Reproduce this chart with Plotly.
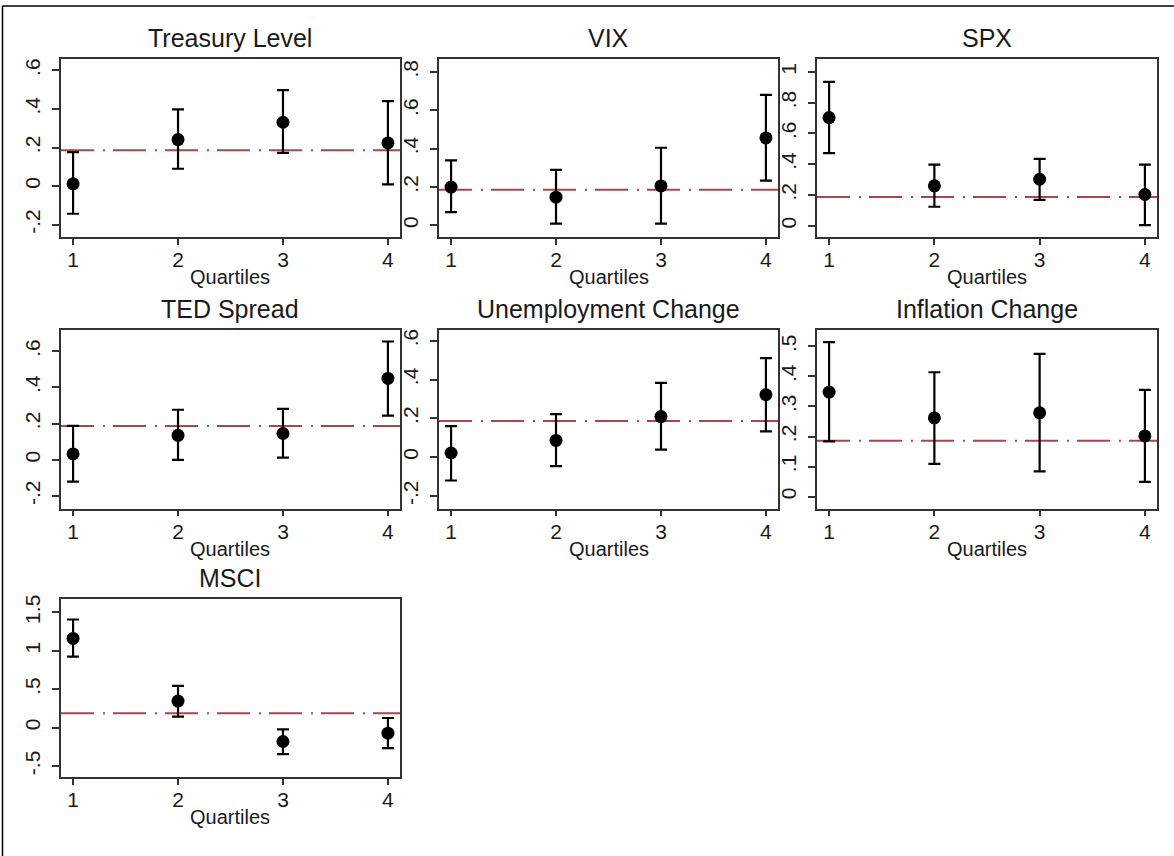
import plotly.graph_objects as go

# ---------------- data ----------------
quartiles = [1, 2, 3, 4]
panel_titles = ["Treasury Level", "VIX", "SPX", "TED Spread",
                "Unemployment Change", "Inflation Change", "MSCI"]

treasury_coef = [0.012, 0.241, 0.331, 0.224]
treasury_lo = [-0.143, 0.090, 0.172, 0.009]
treasury_hi = [0.176, 0.398, 0.497, 0.440]

vix_coef = [0.200, 0.147, 0.206, 0.456]
vix_lo = [0.069, 0.009, 0.009, 0.233]
vix_hi = [0.339, 0.290, 0.405, 0.681]

spx_coef = [0.703, 0.259, 0.302, 0.203]
spx_lo = [0.472, 0.123, 0.168, 0.004]
spx_hi = [0.935, 0.397, 0.435, 0.397]

ted_coef = [0.032, 0.135, 0.145, 0.449]
ted_lo = [-0.121, -0.001, 0.012, 0.244]
ted_hi = [0.187, 0.276, 0.281, 0.653]

unemp_coef = [0.021, 0.086, 0.209, 0.322]
unemp_lo = [-0.121, -0.047, 0.038, 0.133]
unemp_hi = [0.160, 0.221, 0.383, 0.510]

infl_coef = [0.348, 0.262, 0.279, 0.202]
infl_lo = [0.184, 0.109, 0.084, 0.049]
infl_hi = [0.514, 0.414, 0.475, 0.355]

msci_coef = [1.162, 0.346, -0.181, -0.073]
msci_lo = [0.924, 0.143, -0.346, -0.268]
msci_hi = [1.408, 0.544, -0.022, 0.125]

reference_value = 0.186

ytick_vals = [
    [-0.2, 0, 0.2, 0.4, 0.6],
    [0, 0.2, 0.4, 0.6, 0.8],
    [0, 0.2, 0.4, 0.6, 0.8, 1],
    [-0.2, 0, 0.2, 0.4, 0.6],
    [-0.2, 0, 0.2, 0.4, 0.6],
    [0, 0.1, 0.2, 0.3, 0.4, 0.5],
    [-0.5, 0, 0.5, 1, 1.5],
]
ytick_text = [
    ["-.2", "0", ".2", ".4", ".6"],
    ["0", ".2", ".4", ".6", ".8"],
    ["0", ".2", ".4", ".6", ".8", "1"],
    ["-.2", "0", ".2", ".4", ".6"],
    ["-.2", "0", ".2", ".4", ".6"],
    ["0", ".1", ".2", ".3", ".4", ".5"],
    ["-.5", "0", ".5", "1", "1.5"],
]
x_title = "Quartiles"

coefs = [treasury_coef, vix_coef, spx_coef, ted_coef, unemp_coef, infl_coef, msci_coef]
los = [treasury_lo, vix_lo, spx_lo, ted_lo, unemp_lo, infl_lo, msci_lo]
his = [treasury_hi, vix_hi, spx_hi, ted_hi, unemp_hi, infl_hi, msci_hi]

# ---------------- layout (pixels) ----------------
W, H = 1174, 856
col_px = [(61, 400), (439, 778), (817, 1157)]
row_px = [(55, 234), (328, 507), (598, 777)]
y_ranges = [
    [-0.263, 0.66],
    [-0.060, 0.869],
    [-0.073, 1.086],
    [-0.270, 0.714],
    [-0.266, 0.653],
    [-0.040, 0.553],
    [-0.648, 1.672],
]
x_range = [0.885, 4.115]

FONT = "Liberation Sans, Arial, Helvetica, sans-serif"
LINE = "#333333"
TEXT = "#1a1a1a"
REFCOL = "#a8464e"

fig = go.Figure()
layout = dict(
    width=W, height=H, autosize=False,
    margin=dict(l=0, r=0, t=0, b=0),
    paper_bgcolor="white", plot_bgcolor="white",
    showlegend=False,
    font=dict(family=FONT, size=20, color=TEXT),
)
annotations = []
shapes = []

def px_x(p):
    return p / W

def px_y(p):
    return 1 - p / H

for i in range(7):
    r, c = divmod(i, 3)
    x0, x1 = col_px[c]
    y0, y1 = row_px[r]
    n = "" if i == 0 else str(i + 1)
    xa = "x" + n
    ya = "y" + n
    coef = coefs[i]
    err_plus = [h - v for h, v in zip(his[i], coef)]
    err_minus = [v - l for v, l in zip(coef, los[i])]

    fig.add_trace(go.Scatter(
        x=quartiles, y=coef, mode="markers",
        marker=dict(color="black", size=13),
        error_y=dict(type="data", array=err_plus, arrayminus=err_minus,
                     symmetric=False, color="black", thickness=2.2, width=6),
        xaxis=xa, yaxis=ya, hoverinfo="x+y",
    ))

    layout["xaxis" + n] = dict(
        domain=[px_x(x0), px_x(x1)], anchor=ya, range=x_range,
        tickvals=quartiles, ticktext=[str(q) for q in quartiles],
        showline=True, mirror=True, linecolor=LINE, linewidth=1.5,
        ticks="outside", ticklen=6, tickwidth=1.5, tickcolor=LINE,
        showgrid=False, zeroline=False, ticklabelstandoff=-3,
        tickfont=dict(size=21, family=FONT, color=TEXT),
    )
    layout["yaxis" + n] = dict(
        domain=[px_y(y1), px_y(y0)], anchor=xa, range=y_ranges[i],
        tickvals=ytick_vals[i], ticktext=ytick_text[i], tickangle=-90,
        showline=True, mirror=True, linecolor=LINE, linewidth=1.5,
        ticks="outside", ticklen=7, tickwidth=1.5, tickcolor=LINE,
        showgrid=False, zeroline=False, ticklabelstandoff=4,
        tickfont=dict(size=21, family=FONT, color=TEXT),
    )

    shapes.append(dict(
        type="line", xref=xa + " domain", yref=ya,
        x0=0, x1=1, y0=reference_value, y1=reference_value,
        line=dict(color=REFCOL, width=2, dash="33px,9px,2px,8px"),
        layer="below",
    ))

    annotations.append(dict(
        text=panel_titles[i], xref="paper", yref="paper",
        x=(px_x(x0) + px_x(x1)) / 2, y=px_y(y0),
        xanchor="center", yanchor="bottom", yshift=5, showarrow=False,
        font=dict(size=25, family=FONT, color=TEXT),
    ))
    annotations.append(dict(
        text=x_title, xref="paper", yref="paper",
        x=(px_x(x0) + px_x(x1)) / 2, y=px_y(y1 + 27),
        xanchor="center", yanchor="top", showarrow=False,
        font=dict(size=20, family=FONT, color=TEXT),
    ))

# outer frame lines (left and top)
shapes.append(dict(type="line", xref="paper", yref="paper",
                   x0=px_x(2.5), x1=px_x(2.5), y0=0, y1=px_y(2),
                   line=dict(color="black", width=1.5)))
shapes.append(dict(type="line", xref="paper", yref="paper",
                   x0=px_x(2.5), x1=1, y0=px_y(2), y1=px_y(2),
                   line=dict(color="black", width=1.5)))

layout["annotations"] = annotations
layout["shapes"] = shapes
fig.update_layout(**layout)

fig.write_html("out.html", config={"displayModeBar": False},
               post_script="document.body.style.margin='0';")
